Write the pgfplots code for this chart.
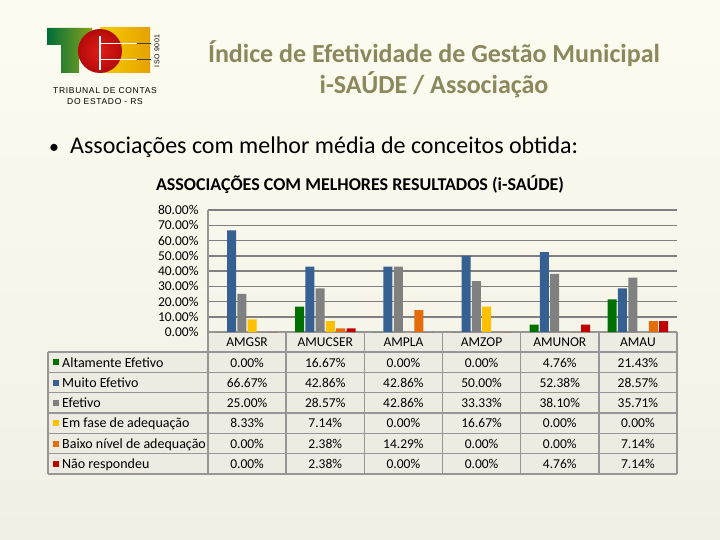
\documentclass[border=0pt]{standalone}
\usepackage{fontspec}
\setmainfont{Carlito}
\newfontfamily\logofont[LetterSpace=8]{Liberation Sans}
\usepackage{pgfplots}
\usepackage{pgfplotstable}
\pgfplotsset{compat=1.18}
\pgfkeys{/pgf/number format/assume math mode=true}

\definecolor{cAlt}{RGB}{0,112,0}
\definecolor{cMuito}{RGB}{55,96,146}
\definecolor{cEfet}{RGB}{128,128,128}
\definecolor{cFase}{RGB}{255,192,0}
\definecolor{cBaixo}{RGB}{228,108,10}
\definecolor{cNao}{RGB}{192,0,0}
\definecolor{titleol}{RGB}{138,136,92}
\definecolor{bgtop}{RGB}{253,252,240}
\definecolor{bgbot}{RGB}{242,240,228}
\definecolor{cellbg}{RGB}{238,236,226}
\definecolor{cellline}{RGB}{150,150,150}
\definecolor{gridc}{RGB}{128,128,128}
\definecolor{logogreen}{RGB}{0,110,60}
\definecolor{logoyel}{RGB}{245,205,0}
\definecolor{logogold}{RGB}{230,160,0}
\definecolor{logored}{RGB}{225,30,25}
\definecolor{logodred}{RGB}{180,10,10}

% share of municipalities per concept, in %
\pgfplotstableread{
cat     alt   muito efet  fase  baixo nao
AMGSR   0     66.67 25.00 8.33  0     0
AMUCSER 16.67 42.86 28.57 7.14  2.38  2.38
AMPLA   0     42.86 42.86 0     14.29 0
AMZOP   0     50.00 33.33 16.67 0     0
AMUNOR  4.76  52.38 38.10 0     0     4.76
AMAU    21.43 28.57 35.71 0     7.14  7.14
}\assoc

\newcommand{\colw}{78.1667}
\newcommand{\rowh}{20.33}

\begin{document}
\begin{tikzpicture}
\begin{scope}[x=1pt,y=-1pt]
\shade[top color=bgtop,bottom color=bgbot] (0,0) rectangle (720,540);

% logo
\shade[left color=logoyel,right color=logogold] (100,28) rectangle (150,73);
\shade[left color=logogreen,right color=logogreen!45!logoyel]
  (47,28) -- (92,28) -- (92,45) -- (79,45) -- (79,73) -- (61,73) -- (61,45) -- (47,45) -- cycle;
\shade[inner color=logored,outer color=logodred] (100,51) circle (22);
\draw[white,line width=1.5] (100,36) -- (100,70);
\draw[white,line width=1.5] (100,43.5) -- (137,43.5) (100,59.5) -- (137,59.5);
\draw[black!75,line width=1.2] (137,43.5) -- (151,43.5) (137,59.5) -- (151,59.5);
\node[rotate=90,font=\logofont\fontsize{7}{8}\selectfont,inner sep=0] at (157,51) {ISO 9001};
\node[font=\logofont\fontsize{8.5}{11}\selectfont,align=center,inner sep=0] at (105,96)
  {TRIBUNAL DE CONTAS\\DO ESTADO - RS};

% titles
\node[text=titleol,font=\fontsize{26}{31}\selectfont\bfseries,align=center] at (434,69)
  {Índice de Efetividade de Gestão Municipal\\i-SAÚDE / Associação};
\node[anchor=base,font=\fontsize{20}{25}\selectfont] at (54,154) {•};
\node[anchor=base west,font=\fontsize{24}{28}\selectfont,inner sep=0] at (70,154)
  {Associações com melhor média de conceitos obtida:};
\node[anchor=base,font=\fontsize{18}{20}\selectfont\bfseries] at (360,191)
  {ASSOCIAÇÕES COM MELHORES RESULTADOS (i-SAÚDE)};

% data table under the chart
\fill[cellbg] (48,352) rectangle (677,474);
\fill[cellbg] (208,332) rectangle (677,352);
\begin{scope}[cellline,line width=1.5]
\foreach \k in {0,...,6} \draw ({208+\k*\colw},332) -- ({208+\k*\colw},474);
\draw (48,352) -- (48,474);
\foreach \i in {0,...,6} \draw (48,{352+\i*\rowh}) -- (677,{352+\i*\rowh});
\end{scope}
\foreach \c/\t [count=\i from 0] in {cAlt/Altamente Efetivo,cMuito/Muito Efetivo,
    cEfet/Efetivo,cFase/Em fase de adequação,cBaixo/Baixo nível de adequação,
    cNao/Não respondeu} {
  \fill[\c] (53,{362.2+\i*\rowh-3}) rectangle ++(6,6);
  \node[anchor=base west,font=\fontsize{14}{16}\selectfont,inner sep=0] at (62,{367+\i*\rowh}) {\t};
}
\foreach \i in {0,...,5} {
  \foreach \col [count=\r from 0] in {alt,muito,efet,fase,baixo,nao} {
    \pgfplotstablegetelem{\i}{\col}\of\assoc
    \node[anchor=base,inner sep=0,font=\fontsize{13.5}{15}\selectfont] at ({208+(\i+0.5)*\colw},{367+\r*\rowh})
      {\pgfmathprintnumber[fixed,fixed zerofill,precision=2]{\pgfplotsretval}\%};
  }
}
\end{scope}

\begin{axis}[
  at={(208pt,-332pt)}, anchor=south west,
  scale only axis, width=469pt, height=122pt,
  ybar=1.3pt, bar width=9pt,
  xmin=-0.5, xmax=5.5, ymin=0, ymax=80,
  enlargelimits=false, clip=false,
  axis x line*=bottom, axis y line*=left,
  axis line style={cellline,line width=1.5pt},
  ymajorgrids, grid style={gridc,line width=1.5pt},
  major tick length=0pt,
  xtick=data,
  xticklabels={AMGSR,AMUCSER,AMPLA,AMZOP,AMUNOR,AMAU},
  ytick={0,10,...,80},
  yticklabel={\pgfmathprintnumber[fixed,fixed zerofill,precision=2]{\tick}\%},
  yticklabel style={font=\fontsize{13.5}{14}\selectfont,xshift=-6pt},
  xticklabel style={font=\fontsize{13.5}{15}\selectfont,anchor=center,yshift=-10.5pt},
  every axis plot/.append style={draw=none},
]
\addplot[fill=cAlt]   table[x expr=\coordindex, y=alt]   {\assoc};
\addplot[fill=cMuito] table[x expr=\coordindex, y=muito] {\assoc};
\addplot[fill=cEfet]  table[x expr=\coordindex, y=efet]  {\assoc};
\addplot[fill=cFase]  table[x expr=\coordindex, y=fase]  {\assoc};
\addplot[fill=cBaixo] table[x expr=\coordindex, y=baixo] {\assoc};
\addplot[fill=cNao]   table[x expr=\coordindex, y=nao]   {\assoc};
\end{axis}
\end{tikzpicture}
\end{document}
